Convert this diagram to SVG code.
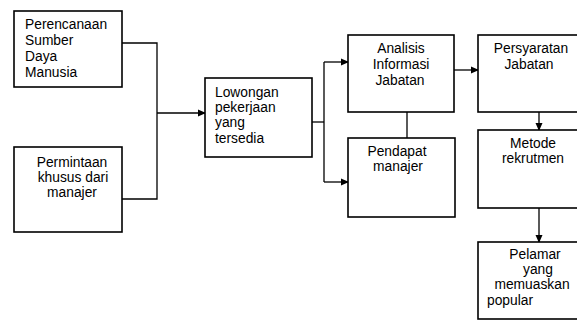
<svg xmlns="http://www.w3.org/2000/svg" width="577" height="322" viewBox="0 0 577 322">
<defs>
<marker id="ah" markerWidth="8" markerHeight="8" refX="7" refY="4" orient="auto" markerUnits="userSpaceOnUse">
<path d="M0,0.5 L8,4 L0,7.5 Z" fill="#000"/>
</marker>
<style>
.box{fill:#fff;stroke:#000;stroke-width:1.6}
.ln{fill:none;stroke:#000;stroke-width:1.3}
text{font-family:"Liberation Sans",Arial,sans-serif;font-size:13.8px;fill:#000}
.c{text-anchor:middle}
</style>
</defs>
<rect width="577" height="322" fill="#fff"/>
<g id="connectors">
<polyline class="ln" points="122,43 157,43 157,199 122,199"/>
<line class="ln" x1="157" y1="113" x2="205" y2="113" marker-end="url(#ah)"/>
<polyline class="ln" points="312,122 324,122"/>
<line class="ln" x1="324" y1="62" x2="324" y2="182"/>
<line class="ln" x1="324" y1="62" x2="348" y2="62" marker-end="url(#ah)"/>
<line class="ln" x1="324" y1="182" x2="348" y2="182" marker-end="url(#ah)"/>
<line class="ln" x1="407" y1="112" x2="407" y2="138"/>
<line class="ln" x1="454" y1="70" x2="478" y2="70" marker-end="url(#ah)"/>
<line class="ln" x1="539" y1="112" x2="539" y2="130" marker-end="url(#ah)"/>
<line class="ln" x1="539" y1="208" x2="539" y2="242" marker-end="url(#ah)"/>
</g>
<g id="perencanaan">
<rect class="box" x="14" y="11" width="108" height="76"/>
<text x="25" y="29">Perencanaan</text>
<text x="25" y="45">Sumber</text>
<text x="25" y="61">Daya</text>
<text x="25" y="77">Manusia</text>
</g>
<g id="permintaan">
<rect class="box" x="14" y="147" width="108" height="85"/>
<text class="c" x="72" y="167">Permintaan</text>
<text class="c" x="73" y="182">khusus dari</text>
<text class="c" x="72" y="197">manajer</text>
</g>
<g id="lowongan">
<rect class="box" x="205" y="78" width="107" height="79"/>
<text x="215" y="97">Lowongan</text>
<text x="215" y="112">pekerjaan</text>
<text x="215" y="127">yang</text>
<text x="215" y="143">tersedia</text>
</g>
<g id="analisis">
<rect class="box" x="348" y="35" width="106" height="77"/>
<text class="c" x="401" y="53">Analisis</text>
<text class="c" x="401" y="69">Informasi</text>
<text class="c" x="400" y="85">Jabatan</text>
</g>
<g id="pendapat">
<rect class="box" x="348" y="138" width="107" height="79"/>
<text class="c" x="397" y="156">Pendapat</text>
<text class="c" x="398" y="171">manajer</text>
</g>
<g id="persyaratan">
<rect class="box" x="478" y="35" width="120" height="77"/>
<text class="c" x="531" y="53">Persyaratan</text>
<text class="c" x="529" y="69">Jabatan</text>
</g>
<g id="metode">
<rect class="box" x="478" y="130" width="120" height="78"/>
<text class="c" x="533" y="148">Metode</text>
<text class="c" x="533" y="163">rekrutmen</text>
</g>
<g id="pelamar">
<rect class="box" x="478" y="242" width="120" height="77"/>
<text class="c" x="535" y="259">Pelamar</text>
<text class="c" x="538" y="274">yang</text>
<text class="c" x="532" y="289">memuaskan</text>
<text x="487" y="305">popular</text>
</g>
</svg>
